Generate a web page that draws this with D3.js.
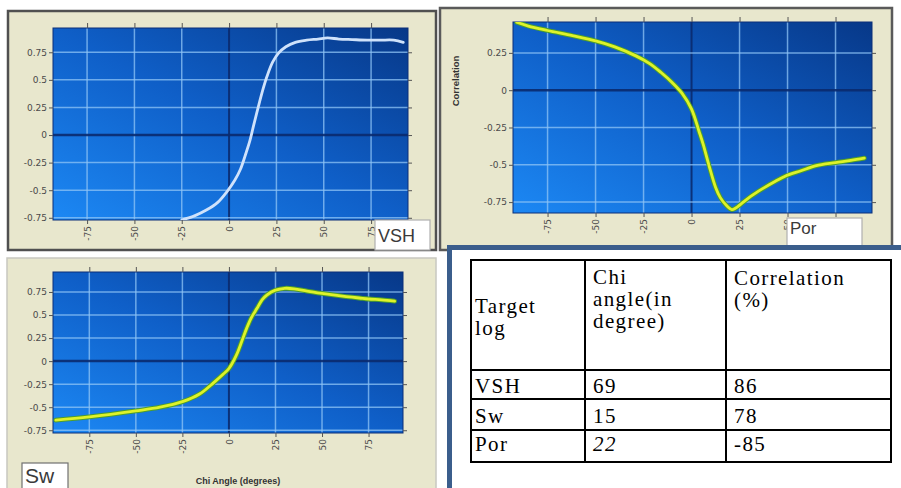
<!DOCTYPE html>
<html><head><meta charset="utf-8">
<script src="https://cdn.jsdelivr.net/npm/d3@7"></script>
<style>body{margin:0;background:#fff}svg{display:block}</style>
</head><body>
<svg id="c" width="901" height="488"></svg>
<script>
// ---- data ----
const xTickValues = [-75, -50, -25, 0, 25, 50, 75];
const yTickValues = [-0.75, -0.5, -0.25, 0, 0.25, 0.5, 0.75];

const vshAngle = [-25, -18, -12, -6, -1, 3, 6, 9, 11, 13, 15.5, 18, 20, 23, 26, 30, 35, 41, 47, 52, 58, 65, 73, 80, 87, 92];
const vshCorr  = [-0.77, -0.73, -0.68, -0.61, -0.51, -0.41, -0.31, -0.16, -0.05, 0.09, 0.26, 0.42, 0.53, 0.66, 0.74, 0.80, 0.84, 0.86, 0.87, 0.88, 0.87, 0.865, 0.86, 0.86, 0.86, 0.84];

const porAngle = [-91, -85, -75, -62, -50, -40, -29, -22, -16, -10, -5, 0, 4, 6, 9, 12.5, 15, 18, 21, 23, 26, 31, 37, 43, 49, 57, 65, 75, 83, 90];
const porCorr  = [0.455, 0.43, 0.40, 0.365, 0.33, 0.29, 0.23, 0.18, 0.12, 0.05, -0.02, -0.127, -0.28, -0.36, -0.50, -0.65, -0.72, -0.77, -0.80, -0.79, -0.76, -0.71, -0.66, -0.615, -0.575, -0.54, -0.505, -0.485, -0.47, -0.455];

const swAngle = [-93, -75, -50, -37, -25, -16, -8, -3, 0, 4, 7, 9.5, 12, 15, 18, 20.5, 25, 30, 35, 42, 50, 57, 63, 70, 75, 82, 89];
const swCorr  = [-0.64, -0.605, -0.54, -0.50, -0.44, -0.36, -0.23, -0.14, -0.08, 0.065, 0.22, 0.355, 0.47, 0.57, 0.67, 0.72, 0.77, 0.79, 0.785, 0.76, 0.735, 0.715, 0.70, 0.685, 0.674, 0.665, 0.652];

const tableHeaders = [["Target", "log"], ["Chi", "angle(in", "degree)"], ["Correlation", "(%)"]];
const targetLogs = ["VSH", "Sw", "Por"];
const chiAngles = ["69", "15", "22"];
const correlations = ["86", "78", "-85"];

// ---- drawing ----
const svg = d3.select('#c');
svg.append('rect').attr('width', 901).attr('height', 488).attr('fill', '#fff');
const defs = svg.append('defs');
const grad = defs.append('linearGradient').attr('id', 'bg')
  .attr('x1', 0).attr('y1', 1).attr('x2', 1).attr('y2', 0);
grad.append('stop').attr('offset', 0).attr('stop-color', '#1c88f4');
grad.append('stop').attr('offset', 0.5).attr('stop-color', '#0f5fc8');
grad.append('stop').attr('offset', 1).attr('stop-color', '#073888');

function panel(o) {
  const g = svg.append('g');
  g.append('rect').attr('x', o.fx).attr('y', o.fy).attr('width', o.fw).attr('height', o.fh)
    .attr('fill', '#e8e7cd').attr('stroke', o.frameColor).attr('stroke-width', o.frameWidth);
  const x = d3.scaleLinear().domain(o.xd).range([o.x0, o.x1]);
  const y = d3.scaleLinear().domain(o.yd).range([o.y1, o.y0]);
  const yT = yTickValues.filter(v => v >= o.yd[0] && v <= o.yd[1]);
  const xT = xTickValues.filter(v => v >= o.xd[0] && v <= o.xd[1]);
  g.append('rect').attr('x', o.x0).attr('y', o.y0).attr('width', o.x1 - o.x0).attr('height', o.y1 - o.y0)
    .attr('fill', 'url(#bg)');
  const cid = 'clip' + o.id;
  defs.append('clipPath').attr('id', cid).append('rect')
    .attr('x', o.x0).attr('y', o.y0).attr('width', o.x1 - o.x0).attr('height', o.y1 - o.y0);
  const grid = g.append('g').attr('clip-path', `url(#${cid})`);
  grid.selectAll('.gx').data(xT).join('line')
    .attr('x1', d => x(d)).attr('x2', d => x(d)).attr('y1', o.y0).attr('y2', o.y1)
    .attr('stroke', d => d === 0 ? '#0a2a6e' : '#8fc4f5').attr('stroke-opacity', d => d === 0 ? 0.9 : 0.75)
    .attr('stroke-width', d => d === 0 ? 2 : 1.5);
  grid.selectAll('.gy').data(yT).join('line')
    .attr('y1', d => y(d)).attr('y2', d => y(d)).attr('x1', o.x0).attr('x2', o.x1)
    .attr('stroke', d => d === 0 ? '#0a2a6e' : '#8fc4f5').attr('stroke-opacity', d => d === 0 ? 0.9 : 0.75)
    .attr('stroke-width', d => d === 0 ? 2.5 : 1.5);
  g.append('rect').attr('x', o.x0).attr('y', o.y0).attr('width', o.x1 - o.x0).attr('height', o.y1 - o.y0)
    .attr('fill', 'none').attr('stroke', '#0b2f78').attr('stroke-width', 1);

  const styleAxis = sel => {
    sel.select('.domain').remove();
    sel.selectAll('line').attr('stroke', '#555');
    sel.selectAll('text').attr('fill', '#4a4a4a').style('font-family', 'DejaVu Sans, sans-serif').style('font-size', '9px');
  };
  g.append('g').attr('transform', `translate(${o.x0},0)`)
    .call(d3.axisLeft(y).tickValues(yT).tickSize(4).tickPadding(2).tickFormat(d => String(d)))
    .call(styleAxis);
  g.append('g').attr('transform', `translate(${o.x1},0)`)
    .call(d3.axisRight(y).tickValues(yT).tickSize(4).tickFormat(''))
    .call(styleAxis);
  g.append('g').attr('transform', `translate(0,${o.y0})`)
    .call(d3.axisTop(x).tickValues(xT).tickSize(5).tickFormat(''))
    .call(styleAxis);
  const xb = g.append('g').attr('transform', `translate(0,${o.y1})`)
    .call(d3.axisBottom(x).tickValues(xT).tickSize(4).tickFormat(d => String(d)))
    .call(styleAxis);
  xb.selectAll('text').attr('transform', 'rotate(-90)').attr('x', -6).attr('y', 0)
    .attr('dy', '0.35em').style('text-anchor', 'end');

  const pts = o.ax.map((a, i) => [a, o.cv[i]]);
  const line = d3.line().x(d => x(d[0])).y(d => y(d[1])).curve(d3.curveCatmullRom.alpha(0.5));
  const cg = g.append('g').attr('clip-path', `url(#${cid})`);
  if (o.outline) {
    cg.append('path').attr('d', line(pts)).attr('fill', 'none').attr('stroke', o.outline)
      .attr('stroke-width', 4.8).attr('stroke-linecap', 'round');
  }
  cg.append('path').attr('d', line(pts)).attr('fill', 'none').attr('stroke', o.color)
    .attr('stroke-width', 2.8).attr('stroke-linecap', 'round');

  // label box
  g.append('rect').attr('x', o.lb[0]).attr('y', o.lb[1]).attr('width', o.lb[2]).attr('height', o.lb[3])
    .attr('fill', '#fff').attr('stroke', o.lbStroke).attr('stroke-width', 1.2);
  g.append('text').attr('x', o.lb[0] + 3).attr('y', o.lb[1] + o.lbBase)
    .attr('fill', '#3a3a3a').style('font-family', 'Liberation Sans, Arial, sans-serif')
    .style('font-size', o.lbSize + 'px').text(o.label);
  return g;
}

// Panel 1: VSH
panel({id: 1, fx: 8, fy: 11, fw: 428, fh: 239, frameColor: '#505050', frameWidth: 2.5,
  x0: 53, x1: 408, y0: 28, y1: 220, xd: [-93, 94.5], yd: [-0.77, 0.97],
  ax: vshAngle, cv: vshCorr, color: '#cfe2fb', outline: null,
  lb: [375, 220, 55, 30], lbStroke: '#b0b0b0', lbBase: 22, lbSize: 18, label: 'VSH'});

// Panel 2: Por
const p2 = panel({id: 2, fx: 440, fy: 8, fw: 452, fh: 242, frameColor: '#5a5a5a', frameWidth: 2.5,
  x0: 513, x1: 872, y0: 22, y1: 213, xd: [-93, 94], yd: [-0.823, 0.457],
  ax: porAngle, cv: porCorr, color: '#def22a', outline: '#4f9e2c',
  lb: [787, 218, 75, 34], lbStroke: '#b0b0b0', lbBase: 16, lbSize: 17, label: 'Por'});
p2.append('text').attr('transform', 'translate(459,81) rotate(-90)')
  .attr('text-anchor', 'middle').attr('fill', '#333')
  .style('font-family', 'Liberation Sans, Arial, sans-serif').style('font-weight', 'bold')
  .style('font-size', '9.5px').text('Correlation');

// Panel 3: Sw
const p3 = panel({id: 3, fx: 7, fy: 258, fw: 429, fh: 240, frameColor: '#c8c8c0', frameWidth: 1.5,
  x0: 53, x1: 403, y0: 272, y1: 433, xd: [-94.5, 93.5], yd: [-0.78, 0.967],
  ax: swAngle, cv: swCorr, color: '#def22a', outline: '#4f9e2c',
  lb: [22, 463, 46, 32], lbStroke: '#707070', lbBase: 20, lbSize: 21, label: 'Sw'});
p3.append('text').attr('x', 238).attr('y', 484)
  .attr('text-anchor', 'middle').attr('fill', '#333')
  .style('font-family', 'Liberation Sans, Arial, sans-serif').style('font-weight', 'bold')
  .style('font-size', '9px').text('Chi Angle (degrees)');

// Table area
svg.append('rect').attr('x', 450).attr('y', 248).attr('width', 451).attr('height', 240).attr('fill', '#fff');
svg.append('rect').attr('x', 447).attr('y', 245).attr('width', 454).attr('height', 5).attr('fill', '#3b5e8c');
svg.append('rect').attr('x', 447).attr('y', 245).attr('width', 5).attr('height', 243).attr('fill', '#3b5e8c');

const tg = svg.append('g');
const colX = [471, 585, 726, 891];
const rowY = [260, 370, 399, 430, 462];
tg.selectAll('.vl').data(colX).join('line')
  .attr('x1', d => d).attr('x2', d => d).attr('y1', rowY[0]).attr('y2', rowY[rowY.length - 1])
  .attr('stroke', '#000').attr('stroke-width', 2);
tg.selectAll('.hl').data(rowY).join('line')
  .attr('y1', d => d).attr('y2', d => d).attr('x1', colX[0] - 1).attr('x2', colX[3] + 1)
  .attr('stroke', '#000').attr('stroke-width', 2);

const serif = 'Liberation Serif, Times New Roman, serif';
const fs = '21px', ls = '1.4px';
const headBase = [[313, 335], [284, 306, 328], [285, 307]];
tableHeaders.forEach((lines, c) => {
  lines.forEach((t, k) => {
    tg.append('text').attr('x', colX[c] + (c === 0 ? 4 : 8)).attr('y', headBase[c][k])
      .style('font-family', serif).style('font-size', fs).style('letter-spacing', ls)
      .attr('fill', '#000').text(t);
  });
});
const rowBase = [393, 423, 451];
const rows = targetLogs.map((t, i) => [t, chiAngles[i], correlations[i]]);
rows.forEach((r, i) => {
  r.forEach((t, c) => {
    tg.append('text').attr('x', colX[c] + (c === 0 ? 4 : 8)).attr('y', rowBase[i])
      .style('font-family', serif).style('font-size', fs).style('letter-spacing', ls)
      .style('font-style', (i === 2 && c === 1) ? 'italic' : 'normal')
      .attr('fill', '#000').text(t);
  });
});
</script>
</body></html>
